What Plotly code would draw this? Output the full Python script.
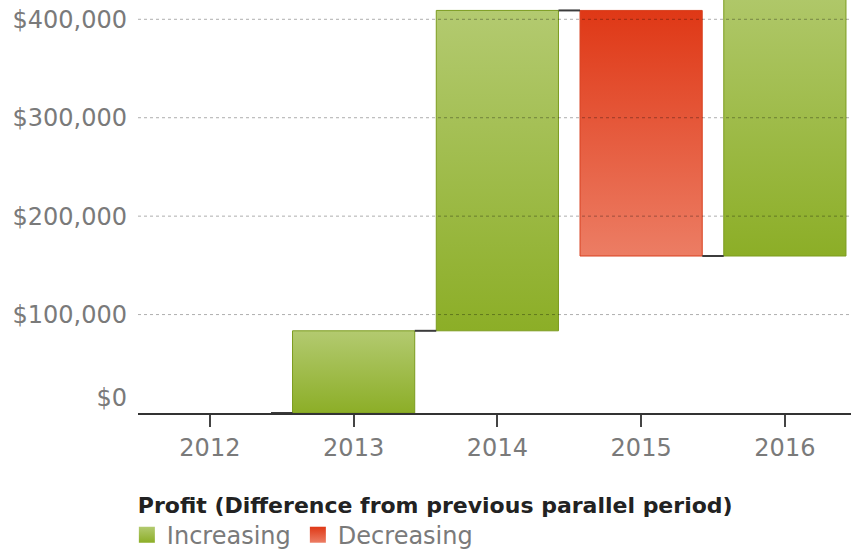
import numpy as np
import plotly.graph_objects as go

# ---- data ----
years = ["2012", "2013", "2014", "2015", "2016"]
deltas = [0, 83500, 325500, -249500, 290000]
y_tick_vals = [100000, 200000, 300000, 400000]
y_tick_text = ["$100,000", "$200,000", "$300,000", "$400,000"]
zero_tick_vals = [0]
zero_tick_text = ["$0"]
legend_names = ["Increasing", "Decreasing"]
legend_title = "Profit (Difference from previous parallel period)"

# ---- styles ----
FONT = "DejaVu Sans"
GREEN_SCALE = [[0, "#8cae27"], [1, "#b3ca70"]]
RED_SCALE = [[0, "#ec7d64"], [1, "#df3816"]]
GREEN_LINE = "#7c9c1f"
RED_LINE = "#d8401f"
BAR_W = 0.85
TICK_FONT = dict(family=FONT, size=24, color="#7a7a7a")

ends = np.cumsum(deltas)
starts = ends - np.array(deltas)
idx = np.arange(len(years))

fig = go.Figure()

for i in idx:
    if deltas[i] == 0:
        continue
    lo, hi = sorted([float(starts[i]), float(ends[i])])
    x0, x1 = i - BAR_W / 2, i + BAR_W / 2
    inc = deltas[i] > 0
    fig.add_trace(go.Scatter(
        x=[x0, x1, x1, x0, x0], y=[lo, lo, hi, hi, lo],
        mode="lines", fill="toself",
        line=dict(color=GREEN_LINE if inc else RED_LINE, width=1),
        fillgradient=dict(type="vertical", colorscale=GREEN_SCALE if inc else RED_SCALE),
        showlegend=False, hoverinfo="skip"))

# connectors
cx, cy = [], []
for i in idx[:-1]:
    cx += [i + BAR_W / 2, i + 1 - BAR_W / 2, None]
    cy += [float(ends[i]), float(ends[i]), None]
fig.add_trace(go.Scatter(x=cx, y=cy, mode="lines", line=dict(color="#3c3c3c", width=2),
                         showlegend=False, hoverinfo="skip"))

# legend entries
fig.add_trace(go.Scatter(x=[None], y=[None], mode="markers", name=legend_names[0],
                         marker=dict(symbol="square", size=16, color="#b3ca70",
                                     gradient=dict(type="vertical", color="#8cae27"))))
fig.add_trace(go.Scatter(x=[None], y=[None], mode="markers", name=legend_names[1],
                         marker=dict(symbol="square", size=16, color="#df3816",
                                     gradient=dict(type="vertical", color="#ec7d64"))))

# dummy trace so the secondary axis (for the raised "$0" label) renders
fig.add_trace(go.Scatter(x=[None], y=[None], yaxis="y2", mode="markers",
                         showlegend=False, hoverinfo="skip"))

# dotted gridlines drawn above bars
for v in y_tick_vals:
    fig.add_shape(type="line", xref="paper", yref="y", x0=0, x1=1, y0=v, y1=v,
                  line=dict(color="rgba(0,0,0,0.32)", width=1, dash="dot"), layer="above")

YMAX = 419600
fig.update_layout(
    width=851, height=562,
    margin=dict(l=138, r=0, t=0, b=149),
    paper_bgcolor="white", plot_bgcolor="white",
    font=dict(family=FONT, color="#7a7a7a"),
    xaxis=dict(range=[-0.5, 4.46], tickvals=idx, ticktext=years,
               showline=True, linecolor="#333333", linewidth=2,
               ticks="outside", ticklen=12, tickwidth=2, tickcolor="#444444",
               tickfont=TICK_FONT, automargin=False,
               showgrid=False, zeroline=False, fixedrange=True),
    yaxis=dict(range=[0, YMAX], tickvals=y_tick_vals, ticktext=y_tick_text,
               tickfont=TICK_FONT, ticks="", ticklabelstandoff=10, automargin=False,
               showgrid=False, zeroline=False, showline=False),
    yaxis2=dict(range=[0, YMAX], overlaying="y", side="left", anchor="x",
                tickvals=zero_tick_vals, ticktext=zero_tick_text, ticklabelshift=-15,
                tickfont=TICK_FONT, ticks="", ticklabelstandoff=10, automargin=False,
                showgrid=False, zeroline=False, showline=False),
    legend=dict(orientation="h", x=-0.003, xanchor="left", y=-0.172, yanchor="top",
                title=dict(text="<b>" + legend_title + "</b>", side="top",
                           font=dict(size=22, color="#222222", family=FONT)),
                font=dict(size=24, color="#7a7a7a", family=FONT),
                itemsizing="trace", tracegroupgap=0, itemwidth=30, indentation=-9,
                entrywidth=135, entrywidthmode="pixels"),
    showlegend=True,
)

fig.write_html("out.html", config={"displayModeBar": False},
               post_script="document.body.style.margin='0';document.body.style.padding='0';"
                           "document.body.style.overflow='hidden';")
